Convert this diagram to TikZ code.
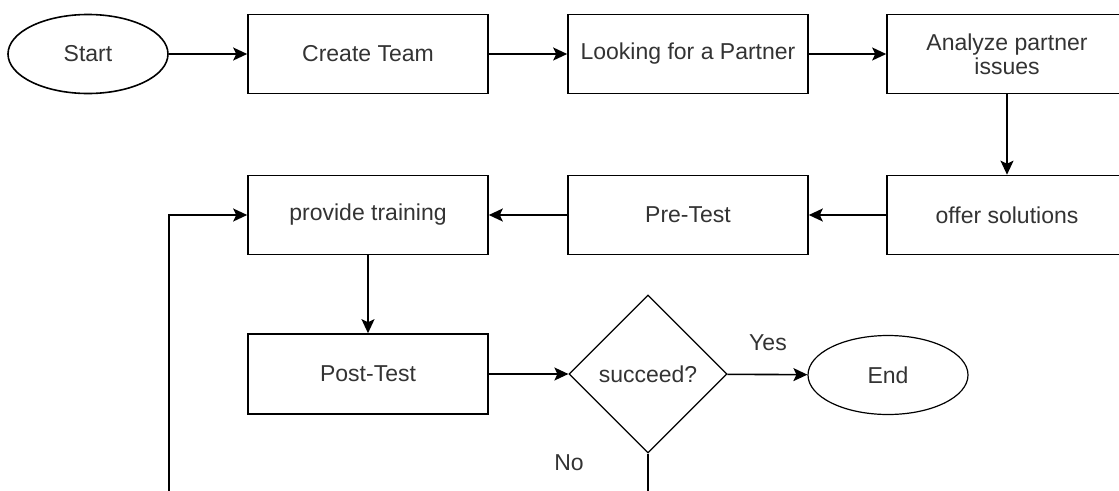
\documentclass[tikz,border=0pt]{standalone}
\usepackage{fontspec}
\setmainfont{Liberation Sans}
\usetikzlibrary{shapes.geometric,arrows.meta}
\begin{document}
\begin{tikzpicture}[x=1pt,y=-1pt,line width=1.6pt,
  every node/.style={font=\fontsize{23}{27}\selectfont,text=black!80},
  box/.style={draw,rectangle,minimum width=240pt,minimum height=79pt,align=center},
  oval/.style={draw,ellipse,minimum width=160pt,minimum height=79pt},
  arr/.style={-{Stealth[length=14pt,width=13pt,inset=3pt]}}]
\useasboundingbox (0,0) rectangle (1119,490);
\clip (0,0) rectangle (1119,490);
\node[oval] (start) at (88,54) {Start};
\node[box] (team) at (368,54) {Create Team};
\node[box] (partner) at (688,54) {Looking for a Partner};
\node[box] (analyze) at (1007,54) {Analyze partner\\[-3pt]issues};
\node[box] (offer) at (1007,215) {offer solutions};
\node[box] (pretest) at (688,215) {Pre-Test};
\node[box] (training) at (368,215) {provide training};
\node[box,minimum height=80pt] (posttest) at (368,374) {Post-Test};
\node[draw,diamond,line width=1.2pt,inner sep=0pt,minimum width=158pt,minimum height=158pt] (succeed) at (648,374) {succeed?};
\node[oval,line width=1.2pt] (end) at (888,375) {End};
\node (yes) at (768,343) {Yes};
\node (no) at (569,463) {No};
\coordinate (loop) at (169,530);
\draw[arr] (start) -- (team);
\draw[arr] (team) -- (partner);
\draw[arr] (partner) -- (analyze);
\draw[arr] (analyze) -- (offer);
\draw[arr] (offer) -- (pretest);
\draw[arr] (pretest) -- (training);
\draw[arr] (training) -- (posttest);
\draw[arr] (posttest) -- (succeed);
\draw[arr] (succeed) -- (end);
\draw[arr] (succeed.south) |- (loop) |- (training.west);
\end{tikzpicture}
\end{document}
